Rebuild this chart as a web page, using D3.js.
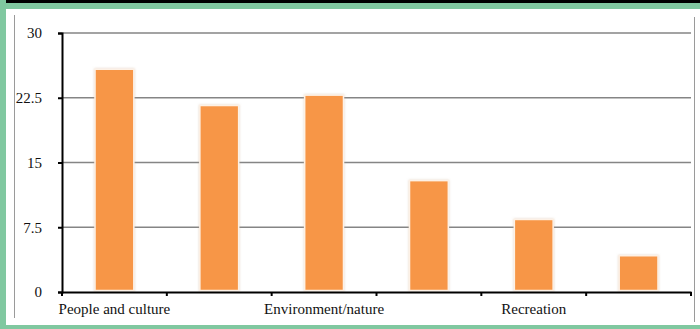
<!DOCTYPE html>
<html><head><meta charset="utf-8">
<script src="https://cdn.jsdelivr.net/npm/d3@7"></script>
<style>html,body{margin:0;padding:0;background:#80c8a0;}svg{display:block;}</style>
</head><body>
<script>
const categories = ["People and culture", "Category 2", "Environment/nature", "Category 4", "Recreation", "Category 6"];
const tickLabels = ["People and culture", "", "Environment/nature", "", "Recreation", ""];
const values = [25.8, 21.6, 22.8, 12.9, 8.4, 4.2];
const yTicks = [0, 7.5, 15, 22.5, 30];

const W = 700, H = 329;
const svg = d3.select("body").append("svg").attr("width", W).attr("height", H);

// background frame
svg.append("rect").attr("x",0).attr("y",0).attr("width",W).attr("height",H).attr("fill","#80c8a0");
svg.append("rect").attr("x",6).attr("y",0).attr("width",W-6).attr("height",3).attr("fill","#000");
svg.append("rect").attr("x",6).attr("y",9).attr("width",W-6).attr("height",316).attr("fill","#fff");
svg.append("line").attr("x1",14.5).attr("x2",14.5).attr("y1",15).attr("y2",318).attr("stroke","#9a9a9a").attr("stroke-width",1);
svg.append("line").attr("x1",694.5).attr("x2",694.5).attr("y1",17).attr("y2",322).attr("stroke","#9a9a9a").attr("stroke-width",1);

const x0 = 62, x1 = 691, yTop = 33, yBot = 292;
const x = d3.scaleBand().domain(d3.range(categories.length)).range([x0, x1]).paddingInner(0.63).paddingOuter(0.315);
const xb = d3.scaleBand().domain(d3.range(categories.length)).range([x0, x1]).padding(0);
const y = d3.scaleLinear().domain([0, 30]).range([yBot, yTop]);

// gridlines
svg.append("g").selectAll("line").data(yTicks.filter(d=>d>0)).join("line")
  .attr("x1", x0).attr("x2", x1)
  .attr("y1", d=>y(d)).attr("y2", d=>y(d))
  .attr("stroke", "#858585").attr("stroke-width", 1.5);

// bars with light glow
const defs = svg.append("defs");
const f = defs.append("filter").attr("id","glow").attr("x","-20%").attr("y","-20%").attr("width","140%").attr("height","140%");
f.append("feDropShadow").attr("dx",0).attr("dy",0).attr("stdDeviation",1.2).attr("flood-color","#c8a888").attr("flood-opacity",0.5);

svg.append("g").selectAll("rect").data(values).join("rect")
  .attr("x", (d,i)=>x(i))
  .attr("y", d=>y(d))
  .attr("width", x.bandwidth())
  .attr("height", d=>y(0)-y(d)-1.5)
  .attr("fill", "#f79646")
  .attr("stroke", "#fdf1e6").attr("stroke-width", 1.5)
  .attr("filter","url(#glow)");

const FONT = "Liberation Serif, Times New Roman, serif";

// y axis
const yAxis = d3.axisLeft(y).tickValues(yTicks).tickSize(4).tickFormat(d=>String(d));
const gy = svg.append("g").attr("transform", `translate(${x0},0)`).call(yAxis);
gy.select(".domain").attr("stroke","#000").attr("stroke-width",2);
gy.selectAll(".tick line").attr("stroke","#000").attr("stroke-width",2);
gy.selectAll(".tick text").attr("x",-20).attr("dy","0.32em")
  .attr("font-family",FONT).attr("font-size",15).attr("fill","#111");

// x axis
const xAxis = d3.axisBottom(xb).tickValues([]).tickSize(0);
const gx = svg.append("g").attr("transform", `translate(0,${yBot})`).call(xAxis);
gx.select(".domain").attr("stroke","#000").attr("stroke-width",2);
const tickPos = d3.range(categories.length + 1).map(i => i < categories.length ? xb(i) : x1);
gx.selectAll("line.tk").data(tickPos).join("line").attr("class","tk")
  .attr("x1", d=>d).attr("x2", d=>d).attr("y1", 0).attr("y2", 4)
  .attr("stroke","#000").attr("stroke-width",2);
gx.selectAll("text.lbl").data(tickLabels).join("text").attr("class","lbl")
  .attr("x", (d,i)=>xb(i) + xb.bandwidth()/2)
  .attr("y", 22)
  .attr("text-anchor","middle")
  .attr("font-family",FONT).attr("font-size",15).attr("fill","#111")
  .text(d=>d);
</script>
</body></html>
